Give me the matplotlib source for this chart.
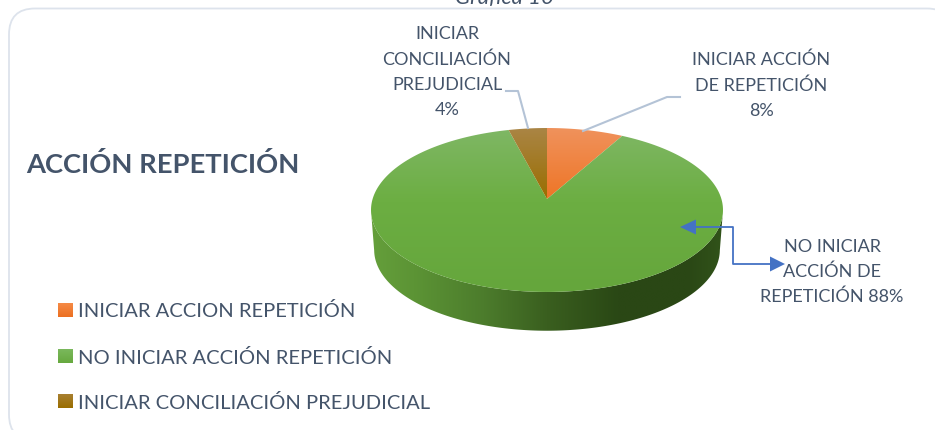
import numpy as np
import matplotlib
matplotlib.use('Agg')
import matplotlib.pyplot as plt
from matplotlib.patches import FancyBboxPatch, Polygon
from matplotlib.colors import LinearSegmentedColormap

plt.rcParams['font.family'] = ['Lato', 'DejaVu Sans']

# Pie data
categories = ['INICIAR ACCION REPETICIÓN', 'NO INICIAR ACCIÓN REPETICIÓN', 'INICIAR CONCILIACIÓN PREJUDICIAL']
values = [8, 88, 4]
top_colors = [('#f0925c', '#ee7526'), ('#7fb765', '#65a63c'), ('#aa8545', '#9a6e00')]
legend_colors = [('#f58a45', '#ec7022'), ('#7ab85c', '#67a93f'), ('#a87f30', '#9a6e00')]
title = 'ACCIÓN REPETICIÓN'
caption = 'Gráfica 10'
label_conciliacion = 'INICIAR\nCONCILIACIÓN\nPREJUDICIAL\n4%'
label_iniciar = 'INICIAR ACCIÓN\nDE REPETICIÓN\n8%'
label_no = 'NO INICIAR\nACCIÓN DE\nREPETICIÓN 88%'
text_color = '#44546a'

W, H = 935, 431
fig = plt.figure(figsize=(W / 100, H / 100), dpi=100)
ax = fig.add_axes([0, 0, 1, 1])
ax.axis('off')

# Panel, runs off the right and bottom of the picture
panel = FancyBboxPatch((9, 9.5), 944, 432, boxstyle='round,pad=0,rounding_size=26',
                       fc='white', ec='#dde3ec', lw=1.3, zorder=1)
ax.add_patch(panel)

# Pie geometry (perspective view of a circle)
cx, cy = 547, 200
rx, a, k = 174.4, 80.5, -0.134
depth = 40


def rim(theta):
    u, v = np.sin(theta), -np.cos(theta)
    d = 1 + k * v
    return cx + rx * u / d, cy + a * v / d


def gradient(colors, poly, extent, horizontal=False, zorder=3):
    cmap = LinearSegmentedColormap.from_list('g', colors)
    ramp = np.linspace(0, 1, 256)
    img = ramp.reshape(1, -1) if horizontal else ramp.reshape(-1, 1)
    im = ax.imshow(img, cmap=cmap, extent=extent, aspect='auto', zorder=zorder, interpolation='bilinear')
    patch = Polygon(poly, closed=True, transform=ax.transData, fc='none', ec='none')
    ax.add_patch(patch)
    im.set_clip_path(patch)


# Side wall
full_x, full_y = rim(np.linspace(0, 2 * np.pi, 720))
y_mid = (full_y.min() + full_y.max()) / 2
mask = full_y >= y_mid
order = np.argsort(full_x[mask])
x_top, y_top = full_x[mask][order], full_y[mask][order]
x_bot = cx + (x_top - cx) * 0.982
y_bot = y_mid + depth + (y_top - y_mid) * 0.985
side = np.vstack([np.column_stack([x_top, y_top]), np.column_stack([x_bot, y_bot])[::-1]])
gradient([(0, '#659f3b'), (0.12, '#5c9435'), (0.32, '#4c7c2c'), (0.5, '#3a5f1f'),
          (0.7, '#2a4815'), (0.9, '#2a4715'), (1, '#31531a')],
         side, (full_x.min(), full_x.max(), y_bot.max() + 1, y_mid - 2), horizontal=True, zorder=2)

# Top face wedges, clockwise from twelve o'clock
ymin, ymax = full_y.min(), full_y.max()
start = 0.0
for val, cols in zip(values, top_colors):
    end = start + val / sum(values) * 2 * np.pi
    px, py = rim(np.linspace(start, end, 300))
    poly = np.vstack([[cx, cy], np.column_stack([px, py])])
    if val > 50:
        stops = [(0, cols[0]), (0.45, '#6cae42'), (1, cols[1])]
        ext = (full_x.min(), full_x.max(), ymax, ymin)
    else:
        stops = [(0, cols[0]), (1, cols[1])]
        ext = (full_x.min(), full_x.max(), cy, ymin)
    gradient(stops, poly, ext, zorder=3)
    start = end

# Data labels
fs = 13
ax.text(447, 72, label_conciliacion, color=text_color, fontsize=fs, ha='center', va='center',
        linespacing=1.7, zorder=5)
ax.text(761, 85, label_iniciar, color=text_color, fontsize=fs, ha='center', va='center',
        linespacing=1.7, zorder=5)
ax.text(832, 272, label_no, color=text_color, fontsize=fs, ha='center', va='center',
        linespacing=1.65, zorder=5)

# Leader lines
ax.plot([506, 518, 528], [92, 92, 129], color='#b4c3d6', lw=1.5, zorder=4)
ax.plot([680, 667, 583], [98, 98, 132], color='#b4c3d6', lw=1.5, zorder=4)

# Blue double arrow
ax.plot([690, 733, 733, 775], [228, 228, 265, 265], color='#4472c4', lw=1.3, zorder=6)
ax.add_patch(Polygon([(680, 228), (696, 220.5), (696, 235.5)], closed=True, fc='#4472c4', ec='none', zorder=6))
ax.add_patch(Polygon([(785, 265), (770, 257.5), (770, 272.5)], closed=True, fc='#4472c4', ec='none', zorder=6))

# Title and caption
ax.text(26, 173, title, color=text_color, fontsize=19.7, fontweight='bold', ha='left', va='baseline', zorder=5)
ax.text(504, 4, caption, color=text_color, fontsize=16, style='italic', ha='center', va='baseline', zorder=5)

# Legend
leg_base = [317.5, 364, 409]
for base, name, cols in zip(leg_base, categories, legend_colors):
    cmap = LinearSegmentedColormap.from_list('l', cols)
    ax.imshow(np.linspace(0, 1, 32).reshape(-1, 1), cmap=cmap, extent=(58, 72.5, base + 0.5, base - 13.5),
              aspect='auto', zorder=5)
    ax.text(78, base, name, color=text_color, fontsize=14.5, ha='left', va='baseline', zorder=5)

ax.set_xlim(0, W)
ax.set_ylim(H, 0)
fig.savefig('out.png', dpi=100)
